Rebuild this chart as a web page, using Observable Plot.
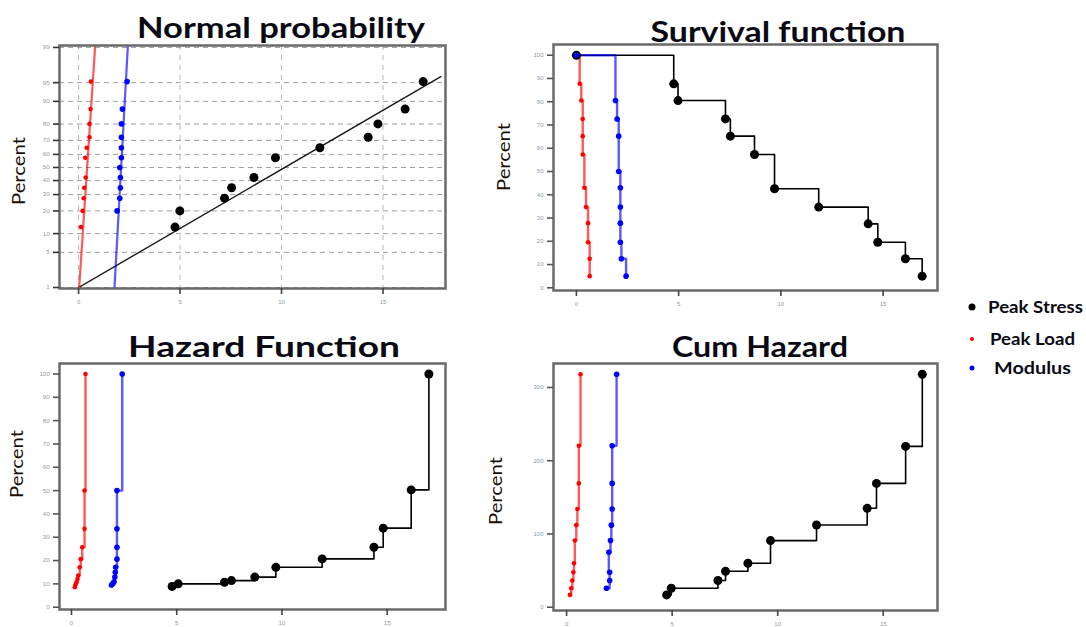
<!DOCTYPE html>
<html>
<head>
<meta charset="utf-8">
<script src="https://cdn.jsdelivr.net/npm/d3@7"></script>
<script src="https://cdn.jsdelivr.net/npm/@observablehq/plot@0.6"></script>
<style>
  html, body { margin: 0; padding: 0; background: #fff; }
  body { width: 1086px; height: 627px; position: relative; overflow: hidden; font-family: Lato, "Open Sans", sans-serif; }
  .panel { position: absolute; }
  .panel svg { overflow: visible; }
  #overlay { position: absolute; left: 0; top: 0; pointer-events: none; }
</style>
</head>
<body>
<div id="p1" class="panel" style="left:0px;top:40px"></div>
<div id="p2" class="panel" style="left:490px;top:40px"></div>
<div id="p3" class="panel" style="left:0px;top:355px"></div>
<div id="p4" class="panel" style="left:490px;top:355px"></div>
<svg id="overlay" width="1086" height="627"></svg>
<script>
// ---- tick labels ----
const xTicks = [0, 5, 10, 15];
const probTicks = [1, 5, 10, 20, 30, 40, 50, 60, 70, 80, 90, 95, 99];
const pctTicks = [0, 10, 20, 30, 40, 50, 60, 70, 80, 90, 100];
const cumTicks = [0, 100, 200, 300];

// ---- Normal probability: observations (x) and plotting percent ----
const normStressX = [4.75, 4.99, 7.19, 7.54, 8.64, 9.70, 11.89, 14.27, 14.75, 16.09, 16.98];
const normStressP = [12.4, 20, 27.6, 34.7, 42.3, 57.5, 64.9, 72.1, 80.1, 87.1, 95.2];
const normLoadX = [0.12, 0.20, 0.25, 0.28, 0.35, 0.33, 0.40, 0.54, 0.54, 0.59, 0.61];
const normLoadP = [12.4, 20, 27.6, 34.7, 42.3, 57.5, 64.9, 72.1, 80.1, 87.1, 95.2];
const normModX = [1.90, 2.03, 2.06, 2.06, 2.03, 2.11, 2.11, 2.11, 2.11, 2.16, 2.39];
const normModP = [20, 27.6, 34.7, 42.3, 50, 57.5, 64.9, 72.1, 80.1, 87.1, 95.2];
// fitted normal lines (end points)
const fitStressX = [0, 17.85];
const fitStressP = [1, 96.1];
const fitLoadX = [0.03, 0.82];
const fitLoadP = [1, 99.1];
const fitModX = [1.77, 2.43];
const fitModP = [1, 99.1];

// ---- Survival function ----
const survStressX = [0, 4.76, 4.97, 7.29, 7.53, 8.71, 9.69, 11.85, 14.27, 14.74, 16.09, 16.91];
const survStressS = [100, 87.7, 80.5, 72.6, 65.2, 57.3, 42.6, 34.7, 27.5, 19.6, 12.5, 5];
const survLoadX = [0, 0.16, 0.24, 0.31, 0.31, 0.31, 0.39, 0.47, 0.57, 0.57, 0.65, 0.65];
const survLoadS = [100, 87.7, 80.5, 72.6, 65.2, 57.3, 43, 34.7, 27.8, 19.6, 12.5, 5];
const survModX = [0, 1.91, 1.99, 2.07, 2.07, 2.15, 2.15, 2.15, 2.15, 2.20, 2.43];
const survModS = [100, 80.5, 72.6, 65.2, 50, 43, 34.7, 27.8, 19.6, 12.5, 5];

// ---- Hazard function ----
const hazStressX = [4.78, 5.07, 7.27, 7.60, 8.71, 9.71, 11.91, 14.37, 14.81, 16.14, 16.98];
const hazStressH = [8.9, 10.0, 10.7, 11.4, 12.9, 17.1, 20.7, 25.7, 33.9, 50.3, 100];
const hazLoadX = [0.16, 0.19, 0.24, 0.285, 0.32, 0.39, 0.44, 0.51, 0.62, 0.62, 0.665];
const hazLoadH = [8.6, 9.7, 10.7, 12.1, 13.6, 17.1, 20.6, 25.7, 33.6, 50, 100];
const hazModX = [1.90, 1.96, 2.02, 2.06, 2.08, 2.10, 2.16, 2.16, 2.16, 2.16, 2.41];
const hazModH = [9.5, 10.0, 10.9, 12.9, 15.0, 17.1, 20.6, 25.7, 33.6, 50, 100];

// ---- Cumulative hazard ----
const cumStressX = [4.74, 4.96, 7.17, 7.53, 8.59, 9.66, 11.84, 14.24, 14.68, 16.06, 16.85];
const cumStressH = [16.8, 25.9, 36.4, 49, 60, 90.9, 112.3, 135, 169, 219.5, 318];
const cumLoadX = [0.16, 0.22, 0.27, 0.32, 0.35, 0.39, 0.46, 0.51, 0.58, 0.58, 0.66];
const cumLoadH = [16.8, 25.9, 36.4, 47.7, 60, 91, 112, 134, 169, 220.5, 318];
const cumModX = [1.89, 2.04, 2.04, 2.00, 2.08, 2.12, 2.16, 2.16, 2.16, 2.37];
const cumModH = [25.9, 36.4, 47.7, 75, 91, 112, 134, 169, 220.5, 318];

// ---- series styling ----
const seriesNames = ["Peak Stress", "Peak Load", "Modulus"];
const seriesColors = ["#000000", "#ff0000", "#0000ff"];

// inverse standard normal CDF (Acklam's rational approximation)
function probit(p) {
  const a = [-3.969683028665376e+01, 2.209460984245205e+02, -2.759285104469687e+02, 1.383577518672690e+02, -3.066479806614716e+01, 2.506628277459239e+00];
  const b = [-5.447609879822406e+01, 1.615858368580409e+02, -1.556989798598866e+02, 6.680131188771972e+01, -1.328068155288572e+01];
  const c = [-7.784894002430293e-03, -3.223964580411365e-01, -2.400758277161838e+00, -2.549671010243490e+00, 4.374664141464968e+00, 2.938163982698783e+00];
  const d = [7.784695709041462e-03, 3.224671290700398e-01, 2.445134137142996e+00, 3.754408661907416e+00];
  const pl = 0.02425;
  if (p < pl) {
    const q = Math.sqrt(-2 * Math.log(p));
    return (((((c[0]*q+c[1])*q+c[2])*q+c[3])*q+c[4])*q+c[5]) / ((((d[0]*q+d[1])*q+d[2])*q+d[3])*q+1);
  }
  if (p > 1 - pl) {
    const q = Math.sqrt(-2 * Math.log(1 - p));
    return -(((((c[0]*q+c[1])*q+c[2])*q+c[3])*q+c[4])*q+c[5]) / ((((d[0]*q+d[1])*q+d[2])*q+d[3])*q+1);
  }
  const q = p - 0.5, r = q * q;
  return (((((a[0]*r+a[1])*r+a[2])*r+a[3])*r+a[4])*r+a[5])*q / (((((b[0]*r+b[1])*r+b[2])*r+b[3])*r+b[4])*r+1);
}

const rows = (xs, ys) => xs.map((x, i) => ({x, y: ys[i]}));

const dotR = [4.5, 2.3, 2.8];
const lineW = [1.6, 2.4, 2.4];
const lineOp = [1, 0.65, 0.65];

// axis pieces shared by every panel
function axes(yTicks, yFormat, yTickStroke) {
  return [
    Plot.axisX({ticks: xTicks, label: null, tickSize: 6, tickFormat: () => "", stroke: "#444", strokeWidth: 1.6}),
    Plot.axisX({ticks: xTicks, label: null, tickSize: 0, tickPadding: 11, fontSize: 6, fill: "#8a9aa6", tickFormat: d => d}),
    Plot.axisY({ticks: yTicks, label: null, tickSize: 6, tickFormat: () => "", stroke: yTickStroke, strokeWidth: 1.6}),
    Plot.axisY({ticks: yTicks, label: null, tickSize: 0, tickPadding: 10, fontSize: 6, fill: "#8a9aa6", tickFormat: yFormat})
  ];
}

function seriesMarks(data, curve) {
  const marks = [];
  data.forEach((rs, k) => {
    marks.push(Plot.line(rs, {x: "x", y: "y", curve, stroke: seriesColors[k], strokeWidth: lineW[k], strokeOpacity: lineOp[k], clip: true}));
  });
  data.forEach((rs, k) => {
    marks.push(Plot.dot(rs, {x: "x", y: "y", r: dotR[k], fill: seriesColors[k], stroke: "none"}));
  });
  return marks;
}

function panel(id, opts, marks) {
  const chart = Plot.plot({
    width: 450,
    height: 270,
    marginLeft: opts.ml, marginRight: opts.mr, marginTop: opts.mt, marginBottom: opts.mb,
    style: {background: "transparent", fontFamily: "sans-serif"},
    x: {domain: opts.xd},
    y: {domain: opts.yd},
    marks
  });
  document.getElementById(id).appendChild(chart);
}

// Panel 1: normal probability plot (percent on a probit axis)
{
  const zTicks = probTicks.map(p => probit(p / 100));
  const zLabel = new Map(zTicks.map((z, i) => [z, String(probTicks[i])]));
  const pr = (xs, ps) => xs.map((x, i) => ({x, y: probit(ps[i] / 100)}));
  const pts = [pr(normStressX, normStressP), pr(normLoadX, normLoadP), pr(normModX, normModP)];
  const fits = [pr(fitStressX, fitStressP), pr(fitLoadX, fitLoadP), pr(fitModX, fitModP)];
  panel("p1", {ml: 59, mr: 5, mt: 5, mb: 22, xd: [-0.94, 18.08], yd: [-2.345, 2.364]}, [
    Plot.gridX(xTicks, {stroke: "#b8b8b8", strokeOpacity: 1, strokeDasharray: "5,5", strokeWidth: 1}),
    Plot.gridY(zTicks, {stroke: "#a0a0a0", strokeOpacity: 1, strokeDasharray: "5,4", strokeWidth: 1}),
    ...fits.map((f, k) => Plot.line(f, {x: "x", y: "y", stroke: seriesColors[k], strokeWidth: k === 0 ? 1.4 : 2.2, strokeOpacity: k === 0 ? 0.9 : 0.65, clip: true})),
    ...pts.map((p, k) => Plot.dot(p, {x: "x", y: "y", r: dotR[k], fill: seriesColors[k], stroke: "none"})),
    Plot.frame({stroke: "#6a6a6a", strokeWidth: 2.5}),
    ...axes(zTicks, z => zLabel.get(z) ?? "", "#333")
  ]);
}

// Panel 2: survival function (step down)
panel("p2", {ml: 63, mr: 3, mt: 4, mb: 20, xd: [-1.12, 17.66], yd: [-1.16, 104.6]}, [
  ...seriesMarks([rows(survStressX, survStressS), rows(survLoadX, survLoadS), rows(survModX, survModS)], "step-after"),
  Plot.frame({stroke: "#6a6a6a", strokeWidth: 2.5}),
  ...axes(pctTicks, d => d, "#555")
]);

// Panel 3: hazard function
panel("p3", {ml: 59, mr: 5, mt: 8, mb: 16, xd: [-0.57, 17.77], yd: [-0.99, 104.5]}, [
  ...seriesMarks([rows(hazStressX, hazStressH), rows(hazLoadX, hazLoadH), rows(hazModX, hazModH)], "step-after"),
  Plot.frame({stroke: "#6a6a6a", strokeWidth: 2.5}),
  ...axes(pctTicks, d => d, "#555")
]);

// Panel 4: cumulative hazard
panel("p4", {ml: 63, mr: 3, mt: 8, mb: 15, xd: [-0.62, 17.57], yd: [-4.5, 332.7]}, [
  ...seriesMarks([rows(cumStressX, cumStressH), rows(cumLoadX, cumLoadH), rows(cumModX, cumModH)], "step-after"),
  Plot.frame({stroke: "#6a6a6a", strokeWidth: 2.5}),
  ...axes(cumTicks, d => d, "#555")
]);

// Titles, axis labels and the shared legend
const titles = [
  {text: "Normal probability", x: 281, y: 38, w: 288},
  {text: "Survival function", x: 778, y: 42, w: 255},
  {text: "Hazard Function", x: 264, y: 357, w: 272},
  {text: "Cum Hazard", x: 760, y: 357, w: 176}
];
const yLabels = [
  {x: 25, y: 171}, {x: 510, y: 157}, {x: 23, y: 464}, {x: 502, y: 491}
];
const legendPos = [
  {x: 972, y: 307, tx: 988, w: 95},
  {x: 972, y: 339, tx: 990, w: 85},
  {x: 972, y: 368, tx: 994, w: 77}
];

const ov = d3.select("#overlay");
ov.selectAll("text.title").data(titles).join("text")
  .attr("class", "title")
  .attr("x", d => d.x).attr("y", d => d.y)
  .attr("text-anchor", "middle")
  .attr("font-family", "Lato, sans-serif").attr("font-weight", 700).attr("font-size", 28)
  .attr("textLength", d => d.w).attr("lengthAdjust", "spacingAndGlyphs")
  .attr("fill", "#0a0a14")
  .text(d => d.text);
ov.selectAll("text.ylab").data(yLabels).join("text")
  .attr("class", "ylab")
  .attr("transform", d => `translate(${d.x},${d.y}) rotate(-90)`)
  .attr("text-anchor", "middle")
  .attr("font-family", "Lato, sans-serif").attr("font-size", 18)
  .attr("textLength", 68).attr("lengthAdjust", "spacingAndGlyphs")
  .attr("fill", "#1a1008")
  .text("Percent");
const lg = ov.selectAll("g.leg").data(legendPos).join("g").attr("class", "leg");
lg.append("circle").attr("cx", d => d.x).attr("cy", d => d.y).attr("r", (d, i) => [3.5, 2, 2.5][i]).attr("fill", (d, i) => seriesColors[i]);
lg.append("text").attr("x", d => d.tx).attr("y", d => d.y).attr("dy", "0.35em")
  .attr("font-family", "Lato, sans-serif").attr("font-weight", 700).attr("font-size", 17.5)
  .attr("textLength", d => d.w).attr("lengthAdjust", "spacingAndGlyphs")
  .attr("fill", "#0a0a14")
  .text((d, i) => seriesNames[i]);
</script>
</body>
</html>
